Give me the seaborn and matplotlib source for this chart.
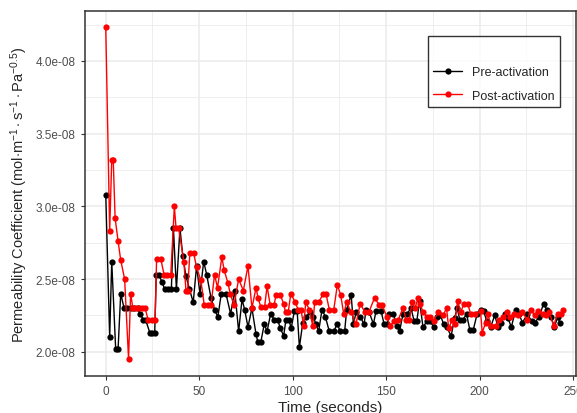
import numpy as np
import pandas as pd
import matplotlib
matplotlib.use("Agg")
import matplotlib.pyplot as plt
import seaborn as sns

# Values (permeability in 1e-8 units)
pre_time = [0, 2.1, 3.2, 5.3, 6.6, 8.0, 9.8, 11.6, 13.4, 15.2, 17.0, 18.5, 20.0, 21.3,
            23.6, 25.0, 26.2, 27.0, 28.5, 30.0, 31.6, 33.3, 35.1, 36.2, 37.8, 39.7,
            41.2, 42.9, 44.8, 46.8, 48.6, 50.4, 52.4, 54.0, 56.3, 58.2, 60.0, 61.8,
            64.3, 66.8, 69.0, 71.1, 72.9, 74.3, 76.1, 78.2, 80.4, 81.3, 83.0, 84.8,
            86.3, 88.2, 90.2, 92.0, 93.4, 95.2, 96.4, 98.0, 99.2, 100.9, 102.4, 103.6,
            105.4, 107.1, 109.3, 111.1, 112.4, 113.9, 115.7, 117.5, 119.6, 122.0,
            123.8, 125.5, 127.8, 128.9, 131.3, 132.5, 133.9, 136.1, 138.2, 139.3,
            141.0, 143.2, 144.6, 147.3, 148.9, 150.7, 151.8, 153.9, 155.7, 157.2,
            159.0, 161.2, 163.3, 165.0, 166.4, 167.9, 169.7, 171.9, 173.6, 175.4,
            177.2, 179.0, 180.8, 182.3, 184.8, 186.6, 188.0, 189.4, 191.2, 193.0,
            194.8, 196.6, 198.7, 200.5, 202.2, 203.8, 205.9, 208.1, 209.9, 211.6,
            213.4, 215.2, 217.0, 219.3, 221.1, 222.9, 225.6, 227.8, 229.5, 231.9,
            234.2, 236.0, 238.2, 240.0, 241.8, 243.0]
pre_value = [3.08, 2.10, 2.62, 2.02, 2.02, 2.40, 2.30, 2.30, 2.30, 2.30, 2.30, 2.26, 2.22, 2.22,
             2.13, 2.13, 2.13, 2.53, 2.53, 2.48, 2.43, 2.43, 2.43, 2.85, 2.43, 2.85,
             2.66, 2.52, 2.43, 2.34, 2.59, 2.40, 2.62, 2.53, 2.37, 2.29, 2.24, 2.40,
             2.40, 2.26, 2.42, 2.14, 2.36, 2.29, 2.17, 2.30, 2.12, 2.07, 2.07, 2.19,
             2.14, 2.26, 2.22, 2.22, 2.16, 2.11, 2.22, 2.22, 2.16, 2.28, 2.28, 2.03,
             2.20, 2.24, 2.27, 2.24, 2.19, 2.14, 2.29, 2.24, 2.14, 2.14,
             2.19, 2.14, 2.14, 2.29, 2.39, 2.19, 2.27, 2.24, 2.19, 2.29,
             2.27, 2.19, 2.28, 2.28, 2.19, 2.19, 2.26, 2.26, 2.18, 2.14,
             2.26, 2.26, 2.30, 2.21, 2.21, 2.35, 2.17, 2.21, 2.21, 2.17,
             2.24, 2.25, 2.19, 2.17, 2.11, 2.23, 2.30, 2.22, 2.22, 2.26,
             2.15, 2.15, 2.26, 2.29, 2.28, 2.21, 2.17, 2.25, 2.17, 2.20,
             2.26, 2.23, 2.17, 2.29, 2.26, 2.20, 2.26, 2.21, 2.20, 2.24,
             2.33, 2.29, 2.24, 2.17, 2.24, 2.20]

post_time = [0, 2.1, 3.2, 4.0, 5.0, 6.6, 8.0, 10.1, 12.2, 13.3, 14.5, 16.0, 17.7, 19.5,
             21.0, 22.7, 24.5, 26.4, 27.2, 29.4, 31.2, 33.0, 34.8, 36.7, 37.6, 39.0,
             41.8, 42.9, 43.8, 45.0, 47.0, 48.6, 50.9, 52.7, 54.5, 56.3, 58.2, 59.8,
             62.1, 63.4, 65.4, 66.6, 68.6, 71.1, 73.6, 76.1, 78.2, 80.4, 81.5, 82.9,
             85.0, 86.3, 88.0, 90.0, 91.1, 93.4, 95.2, 96.2, 97.6, 99.0, 101.4, 102.9,
             104.4, 105.9, 107.0, 108.9, 110.7, 111.8, 113.9, 116.4, 117.8, 119.6,
             122.0, 123.9, 125.7, 127.3, 128.9, 131.3, 133.9, 136.1, 138.8, 140.7,
             143.8, 146.4, 147.9, 150.4, 152.1, 154.3, 156.5, 159.0, 160.8, 162.5,
             163.8, 165.4, 167.2, 168.3, 169.7, 171.9, 173.6, 175.4, 177.6, 180.5,
             182.3, 183.5, 185.3, 186.6, 188.3, 189.8, 191.6, 193.7, 195.2, 197.8,
             200.5, 201.4, 203.2, 204.5, 205.9, 208.6, 210.4, 212.7, 214.5, 216.3,
             218.4, 220.6, 222.9, 225.6, 227.4, 229.5, 231.3, 233.7, 235.5, 237.3,
             239.6, 241.8, 243.5, 244.5]
post_value = [4.23, 2.83, 3.32, 3.32, 2.92, 2.76, 2.63, 2.50, 1.95, 2.40, 2.30, 2.30, 2.30, 2.30,
              2.30, 2.22, 2.22, 2.22, 2.64, 2.64, 2.53, 2.53, 2.53, 3.00, 2.85, 2.85,
              2.62, 2.42, 2.42, 2.68, 2.68, 2.58, 2.49, 2.32, 2.32, 2.32, 2.53, 2.44,
              2.65, 2.56, 2.47, 2.40, 2.32, 2.50, 2.42, 2.59, 2.30, 2.44, 2.37, 2.31,
              2.31, 2.45, 2.32, 2.32, 2.39, 2.39, 2.33, 2.27, 2.27, 2.40, 2.34, 2.29,
              2.29, 2.18, 2.34, 2.29, 2.18, 2.34, 2.34, 2.40, 2.40, 2.29,
              2.29, 2.46, 2.39, 2.26, 2.34, 2.27, 2.19, 2.33, 2.27, 2.27,
              2.37, 2.32, 2.32, 2.24, 2.18, 2.21, 2.22, 2.30, 2.22, 2.22,
              2.34, 2.30, 2.37, 2.33, 2.27, 2.24, 2.24, 2.21, 2.27, 2.25,
              2.30, 2.16, 2.22, 2.19, 2.35, 2.27, 2.33, 2.33, 2.26, 2.26,
              2.28, 2.13, 2.20, 2.26, 2.18, 2.18, 2.22, 2.24, 2.27, 2.24,
              2.26, 2.25, 2.27, 2.22, 2.29, 2.25, 2.28, 2.26, 2.25, 2.27,
              2.18, 2.26, 2.26, 2.29]

pre = pd.DataFrame({"time": pre_time, "value": np.array(pre_value) * 1e-8, "group": "Pre-activation"})
post = pd.DataFrame({"time": post_time, "value": np.array(post_value) * 1e-8, "group": "Post-activation"})
df = pd.concat([pre, post], ignore_index=True)

sns.set_style("white")
plt.rcParams['font.family'] = ['Liberation Sans', 'DejaVu Sans']
plt.rcParams['mathtext.fontset'] = 'custom'
plt.rcParams['mathtext.rm'] = 'Liberation Sans'
plt.rcParams['mathtext.it'] = 'Liberation Sans'

fig = plt.figure(figsize=(5.77, 4.14), dpi=100)
ax = fig.add_axes([0.147, 0.09, 0.851, 0.88])

sns.lineplot(data=df, x="time", y="value", hue="group",
             hue_order=["Pre-activation", "Post-activation"],
             palette={"Pre-activation": "black", "Post-activation": "#FF0000"},
             marker="o", markersize=4.5, markeredgewidth=0, linewidth=1,
             estimator=None, sort=False, ax=ax)

ax.set_xlim(-11.2, 251.5)
ax.set_ylim(1.835e-8, 4.34e-8)
ax.set_xticks([0, 50, 100, 150, 200, 250])
ax.set_yticks([2.0e-8, 2.5e-8, 3.0e-8, 3.5e-8, 4.0e-8])
ax.set_yticklabels(["2.0e-08", "2.5e-08", "3.0e-08", "3.5e-08", "4.0e-08"])
ax.set_xticks([25, 75, 125, 175, 225], minor=True)
ax.set_yticks([2.25e-8, 2.75e-8, 3.25e-8, 3.75e-8, 4.25e-8], minor=True)
ax.grid(which="major", color="#EBEBEB", linewidth=1.1)
ax.grid(which="minor", color="#EBEBEB", linewidth=0.6)
ax.set_axisbelow(True)

for s in ax.spines.values():
    s.set_color("#333333")
    s.set_linewidth(1.1)

ax.tick_params(axis="both", which="major", length=3, width=0.8, color="#333333",
               labelcolor="#4D4D4D", labelsize=8.5, bottom=True, left=True)
ax.tick_params(which="minor", length=0)

ax.set_xlabel("Time (seconds)", fontsize=11, labelpad=2)
ax.set_ylabel("Permeability Coefficient (mol$\\cdot$m$^{-1}\\cdot$s$^{-1}\\cdot$Pa$^{-0.5}$)",
              fontsize=10.5, labelpad=4)

leg = ax.legend(loc="upper right", bbox_to_anchor=(0.967, 0.932), title=" ",
                fontsize=9, frameon=True, fancybox=False, borderpad=0.4,
                borderaxespad=0, handlelength=2.3, labelspacing=0.9)
leg.get_frame().set_edgecolor("black")
leg.get_frame().set_linewidth(1)

fig.savefig("out.png", dpi=100)
